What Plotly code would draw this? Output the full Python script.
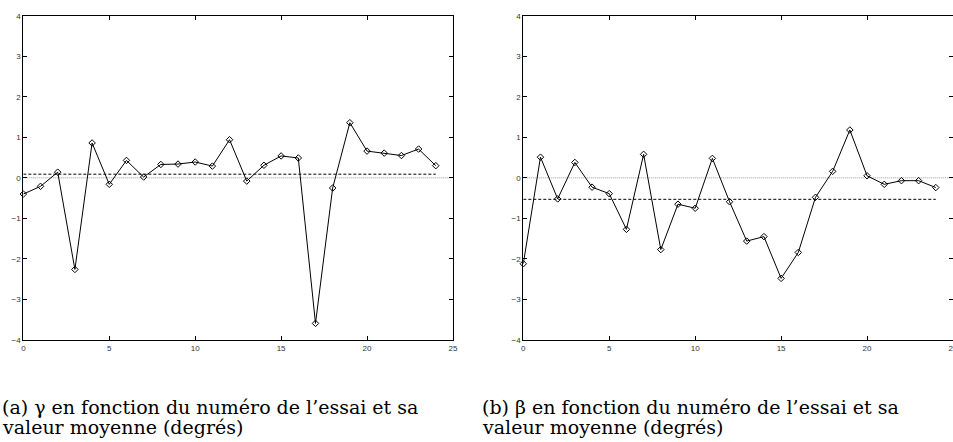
import plotly.graph_objects as go
from plotly.subplots import make_subplots

# essai numbers
essais = list(range(25))

# gamma (degrees) per trial, left panel
gamma = [-0.40, -0.21, 0.14, -2.26, 0.86, -0.16, 0.43, 0.02, 0.33, 0.34,
         0.39, 0.29, 0.94, -0.08, 0.31, 0.54, 0.49, -3.59, -0.25, 1.36,
         0.66, 0.61, 0.55, 0.71, 0.30]
gamma_mean = 0.09

# beta (degrees) per trial, right panel
beta = [-2.12, 0.51, -0.52, 0.38, -0.23, -0.39, -1.27, 0.58, -1.77, -0.65,
        -0.75, 0.48, -0.59, -1.56, -1.45, -2.48, -1.84, -0.48, 0.16, 1.18,
        0.05, -0.16, -0.07, -0.07, -0.24]
beta_mean = -0.53

x_ticks = [0, 5, 10, 15, 20, 25]
y_ticks = [-4, -3, -2, -1, 0, 1, 2, 3, 4]

# caption lines, one pair per panel
captions = [
    ["(a) \u03b3 en fonction du num\u00e9ro de l\u2019essai et sa", "valeur moyenne (degr\u00e9s)"],
    ["(b) \u03b2 en fonction du num\u00e9ro de l\u2019essai et sa", "valeur moyenne (degr\u00e9s)"],
]

fig = make_subplots(rows=1, cols=2)

for col, (vals, mean) in enumerate([(gamma, gamma_mean), (beta, beta_mean)], start=1):
    # zero reference (dotted grey)
    fig.add_trace(go.Scatter(x=[0, 25], y=[0, 0], mode='lines',
                             line=dict(color='#999999', width=1, dash='1px,1px'),
                             showlegend=False, hoverinfo='skip'), row=1, col=col)
    # mean value (dashed black)
    fig.add_trace(go.Scatter(x=[essais[0], essais[-1]], y=[mean, mean], mode='lines',
                             line=dict(color='black', width=1, dash='3px,2px'),
                             showlegend=False, hoverinfo='skip'), row=1, col=col)
    # measurements
    fig.add_trace(go.Scatter(x=essais, y=vals, mode='lines+markers',
                             line=dict(color='black', width=1),
                             marker=dict(symbol='diamond-open', size=5,
                                         color='black', line=dict(width=1)),
                             showlegend=False, cliponaxis=False), row=1, col=col)

axis_style = dict(showgrid=False, zeroline=False, showline=True, mirror='ticks',
                  linecolor='black', linewidth=1, ticks='inside', ticklen=4,
                  tickcolor='black', automargin=False, ticklabeloverflow='allow',
                  tickfont=dict(family='Liberation Sans', size=8, color='#333333'))

fig.update_xaxes(range=[0, 25], tickvals=x_ticks, **axis_style)
fig.update_yaxes(range=[-4, 4], tickvals=y_ticks, **axis_style)

fig.update_layout(
    width=953, height=442,
    margin=dict(l=0, r=0, t=0, b=0, autoexpand=False),
    plot_bgcolor='white', paper_bgcolor='white',
    xaxis=dict(domain=[0.0245, 0.4753]),
    xaxis2=dict(domain=[0.5491, 1.0]),
    yaxis=dict(domain=[0.2308, 0.9645]),
    yaxis2=dict(domain=[0.2308, 0.9645]),
)

for i, lines in enumerate(captions):
    for j, line in enumerate(lines):
        fig.add_annotation(text=line, xref='paper', yref='paper',
                           x=[0.0, 0.5035][i], y=[0.0792, 0.0340][j],
                           xanchor='left', yanchor='middle',
                           align='left', showarrow=False,
                           font=dict(family='DejaVu Serif', size=19, color='black'))

# drop the page's default body margin so the figure sits at the window origin
fig.write_html("out.html", config={'displayModeBar': False},
               post_script="document.body.style.margin='0px';")
